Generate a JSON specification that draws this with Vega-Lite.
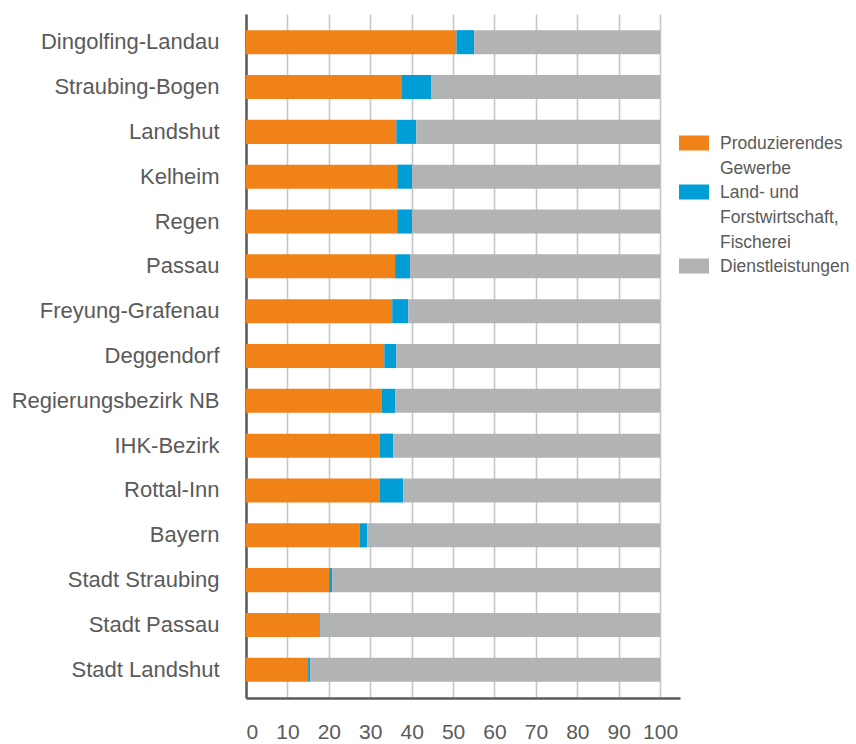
{
  "$schema": "https://vega.github.io/schema/vega-lite/v6.json",
  "width": 434,
  "height": 684,
  "autosize": {"type": "none"},
  "padding": {"left": 246, "top": 14, "right": 176, "bottom": 46},
  "background": "white",
  "config": {
    "view": {"stroke": null},
    "font": "Liberation Sans"
  },
  "data": {
    "values": [
      {"region": "Dingolfing-Landau", "cat": "Produzierendes Gewerbe", "o": 1, "v": 50.8},
      {"region": "Dingolfing-Landau", "cat": "Land- und Forstwirtschaft, Fischerei", "o": 2, "v": 4.3},
      {"region": "Dingolfing-Landau", "cat": "Dienstleistungen", "o": 3, "v": 44.9},
      {"region": "Straubing-Bogen", "cat": "Produzierendes Gewerbe", "o": 1, "v": 37.5},
      {"region": "Straubing-Bogen", "cat": "Land- und Forstwirtschaft, Fischerei", "o": 2, "v": 7.3},
      {"region": "Straubing-Bogen", "cat": "Dienstleistungen", "o": 3, "v": 55.2},
      {"region": "Landshut", "cat": "Produzierendes Gewerbe", "o": 1, "v": 36.3},
      {"region": "Landshut", "cat": "Land- und Forstwirtschaft, Fischerei", "o": 2, "v": 4.8},
      {"region": "Landshut", "cat": "Dienstleistungen", "o": 3, "v": 58.9},
      {"region": "Kelheim", "cat": "Produzierendes Gewerbe", "o": 1, "v": 36.5},
      {"region": "Kelheim", "cat": "Land- und Forstwirtschaft, Fischerei", "o": 2, "v": 3.6},
      {"region": "Kelheim", "cat": "Dienstleistungen", "o": 3, "v": 59.9},
      {"region": "Regen", "cat": "Produzierendes Gewerbe", "o": 1, "v": 36.5},
      {"region": "Regen", "cat": "Land- und Forstwirtschaft, Fischerei", "o": 2, "v": 3.6},
      {"region": "Regen", "cat": "Dienstleistungen", "o": 3, "v": 59.9},
      {"region": "Passau", "cat": "Produzierendes Gewerbe", "o": 1, "v": 36.0},
      {"region": "Passau", "cat": "Land- und Forstwirtschaft, Fischerei", "o": 2, "v": 3.6},
      {"region": "Passau", "cat": "Dienstleistungen", "o": 3, "v": 60.4},
      {"region": "Freyung-Grafenau", "cat": "Produzierendes Gewerbe", "o": 1, "v": 35.3},
      {"region": "Freyung-Grafenau", "cat": "Land- und Forstwirtschaft, Fischerei", "o": 2, "v": 3.9},
      {"region": "Freyung-Grafenau", "cat": "Dienstleistungen", "o": 3, "v": 60.8},
      {"region": "Deggendorf", "cat": "Produzierendes Gewerbe", "o": 1, "v": 33.4},
      {"region": "Deggendorf", "cat": "Land- und Forstwirtschaft, Fischerei", "o": 2, "v": 2.9},
      {"region": "Deggendorf", "cat": "Dienstleistungen", "o": 3, "v": 63.7},
      {"region": "Regierungsbezirk NB", "cat": "Produzierendes Gewerbe", "o": 1, "v": 32.7},
      {"region": "Regierungsbezirk NB", "cat": "Land- und Forstwirtschaft, Fischerei", "o": 2, "v": 3.3},
      {"region": "Regierungsbezirk NB", "cat": "Dienstleistungen", "o": 3, "v": 64.0},
      {"region": "IHK-Bezirk", "cat": "Produzierendes Gewerbe", "o": 1, "v": 32.2},
      {"region": "IHK-Bezirk", "cat": "Land- und Forstwirtschaft, Fischerei", "o": 2, "v": 3.4},
      {"region": "IHK-Bezirk", "cat": "Dienstleistungen", "o": 3, "v": 64.4},
      {"region": "Rottal-Inn", "cat": "Produzierendes Gewerbe", "o": 1, "v": 32.2},
      {"region": "Rottal-Inn", "cat": "Land- und Forstwirtschaft, Fischerei", "o": 2, "v": 5.8},
      {"region": "Rottal-Inn", "cat": "Dienstleistungen", "o": 3, "v": 62.0},
      {"region": "Bayern", "cat": "Produzierendes Gewerbe", "o": 1, "v": 27.4},
      {"region": "Bayern", "cat": "Land- und Forstwirtschaft, Fischerei", "o": 2, "v": 1.9},
      {"region": "Bayern", "cat": "Dienstleistungen", "o": 3, "v": 70.7},
      {"region": "Stadt Straubing", "cat": "Produzierendes Gewerbe", "o": 1, "v": 20.1},
      {"region": "Stadt Straubing", "cat": "Land- und Forstwirtschaft, Fischerei", "o": 2, "v": 0.7},
      {"region": "Stadt Straubing", "cat": "Dienstleistungen", "o": 3, "v": 79.2},
      {"region": "Stadt Passau", "cat": "Produzierendes Gewerbe", "o": 1, "v": 17.7},
      {"region": "Stadt Passau", "cat": "Land- und Forstwirtschaft, Fischerei", "o": 2, "v": 0.3},
      {"region": "Stadt Passau", "cat": "Dienstleistungen", "o": 3, "v": 82.0},
      {"region": "Stadt Landshut", "cat": "Produzierendes Gewerbe", "o": 1, "v": 15.0},
      {"region": "Stadt Landshut", "cat": "Land- und Forstwirtschaft, Fischerei", "o": 2, "v": 0.5},
      {"region": "Stadt Landshut", "cat": "Dienstleistungen", "o": 3, "v": 84.5}
    ]
  },
  "mark": {"type": "bar"},
  "encoding": {
    "y": {
      "field": "region",
      "type": "nominal",
      "sort": null,
      "scale": {"paddingInner": 0.463, "paddingOuter": 0.36},
      "axis": {
        "title": null,
        "ticks": false,
        "tickSize": 0,
        "labelPadding": 27,
        "labelFont": "Liberation Sans",
        "labelFontSize": 22,
        "labelColor": "#5a5a5a",
        "labelLimit": 300,
        "domainColor": "#5a5a5a",
        "domainWidth": 2.5,
        "grid": false
      }
    },
    "x": {
      "field": "v",
      "type": "quantitative",
      "stack": "zero",
      "scale": {"domain": [0, 104.8], "nice": false},
      "axis": {
        "title": null,
        "values": [0, 10, 20, 30, 40, 50, 60, 70, 80, 90, 100],
        "ticks": false,
        "tickSize": 0,
        "labelPadding": 23,
        "labelFlush": true,
        "labelFont": "Liberation Sans",
        "labelFontSize": 21,
        "labelColor": "#5a5a5a",
        "domainColor": "#5a5a5a",
        "domainWidth": 2.5,
        "grid": true,
        "gridColor": "#c6c6c6",
        "gridWidth": 1.6
      }
    },
    "color": {
      "field": "cat",
      "type": "nominal",
      "scale": {
        "domain": ["Produzierendes Gewerbe", "Land- und Forstwirtschaft, Fischerei", "Dienstleistungen"],
        "range": ["#F08218", "#009DD6", "#B2B3B5"]
      },
      "legend": {
        "title": null,
        "orient": "none",
        "legendX": 433,
        "legendY": 114,
        "padding": 0,
        "rowPadding": 0,
        "symbolType": "M-1,-0.5H1V0.5H-1Z",
        "symbolSize": 900,
        "symbolStrokeWidth": 0,
        "symbolOpacity": 1,
        "labelOffset": 11,
        "labelFont": "Liberation Sans",
        "labelFontSize": 17.5,
        "labelColor": "#5a5a5a",
        "labelLimit": 300,
        "labelBaseline": "line-top",
        "labelExpr": "datum.label == 'Produzierendes Gewerbe' ? ['Produzierendes', 'Gewerbe'] : datum.label == 'Dienstleistungen' ? 'Dienstleistungen' : ['Land- und', 'Forstwirtschaft,', 'Fischerei']",
        "encode": {
          "labels": {"update": {"lineHeight": {"value": 25}, "dy": {"value": -12.5}}}
        }
      }
    },
    "order": {"field": "o", "type": "quantitative"}
  }
}
